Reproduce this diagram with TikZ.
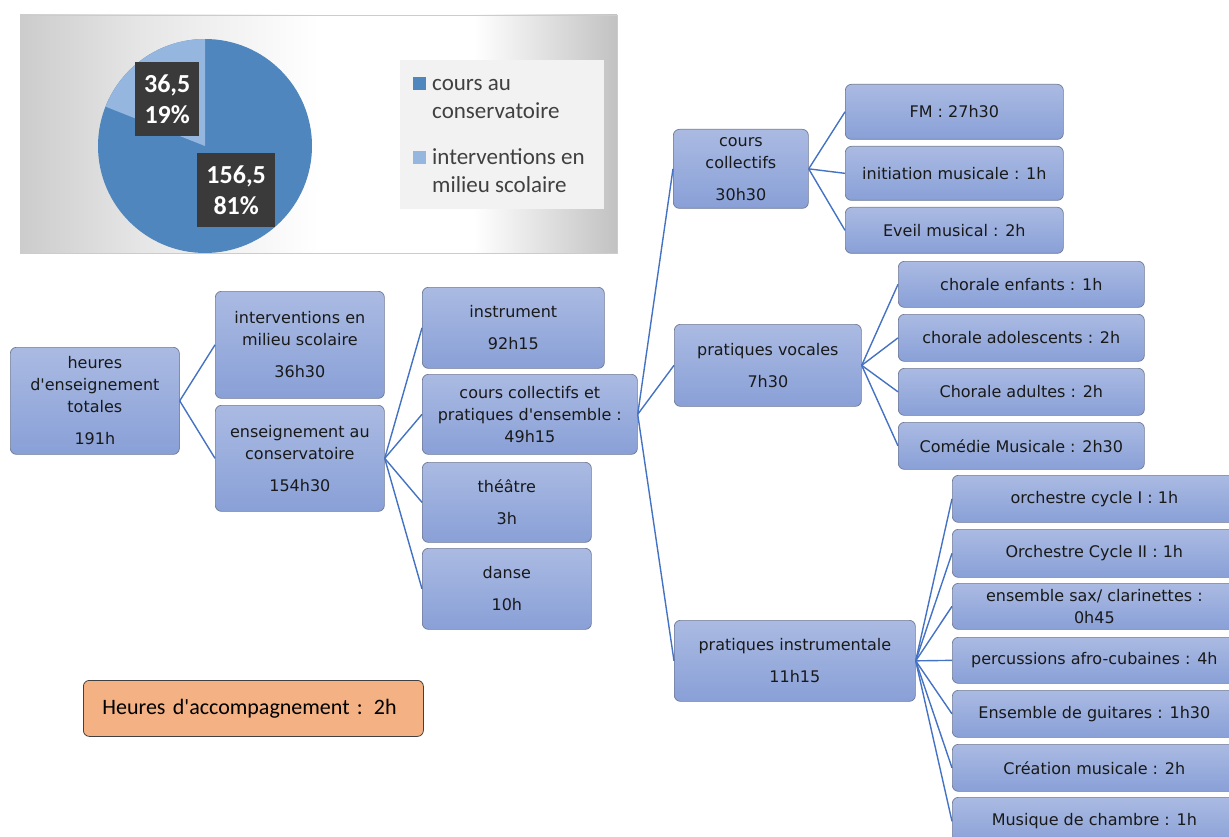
\documentclass[tikz,border=0pt]{standalone}
\usepackage{fontspec}
\setmainfont[Ligatures=TeXOff]{Carlito}
\newfontfamily\boxfont[Ligatures=TeXOff]{DejaVu Sans}
\definecolor{boxtop}{RGB}{170,186,226}
\definecolor{boxbot}{RGB}{137,160,215}
\definecolor{boxline}{RGB}{112,122,150}
\definecolor{linkblue}{RGB}{68,114,196}
\definecolor{piedark}{RGB}{79,134,190}
\definecolor{pielight}{RGB}{149,182,222}
\definecolor{labeldark}{RGB}{58,58,58}
\definecolor{accorange}{RGB}{244,177,131}
\pgfdeclarehorizontalshading{chartback}{100bp}{color(0bp)=(black!20); color(25bp)=(black!20); color(35bp)=(black!10); color(50bp)=(white); color(63bp)=(white); color(75bp)=(black!24); color(100bp)=(black!24)}

\begin{document}
\begin{tikzpicture}[x=1pt,y=-1pt,
    tbox/.style={draw=boxline,line width=0.7pt,rounded corners=6pt,top color=boxtop,bottom color=boxbot,
      anchor=north west,align=center,inner sep=2pt,text=black!90,font=\boxfont\fontsize{16}{22}\selectfont},
    link/.style={draw=linkblue,line width=1.4pt},
    pielabel/.style={fill=labeldark,anchor=north west,align=center,text=white,inner sep=0pt,
      font=\bfseries\fontsize{26}{31}\selectfont},
    legtext/.style={anchor=base west,inner sep=0pt,text=black!75,font=\fontsize{23}{28}\selectfont}]

    \useasboundingbox (0,0) rectangle (1229,837);

    % pie chart
    \shade[shading=chartback,draw=black!20,line width=0.5pt] (20,15) rectangle (617,253);
    \fill[piedark] (205,146) circle[radius=107pt];
    \fill[pielight] (205,146) -- (205,39) arc[start angle=90,end angle=158.4,radius=107pt] -- cycle;
    \node[pielabel,minimum width=64pt,minimum height=74pt] (lab1) at (135,62) {36,5\\19\%};
    \node[pielabel,minimum width=78pt,minimum height=74pt] (lab2) at (197,153) {156,5\\81\%};
    \fill[black!5] (400,60) rectangle (604,209);
    \fill[piedark] (413,77) rectangle (426,90);
    \fill[pielight] (413,151) rectangle (426,164);
    \node[legtext] (leg1a) at (432,91) {cours au};
    \node[legtext] (leg1b) at (432,119) {conservatoire};
    \node[legtext] (leg2a) at (432,165) {interventions en};
    \node[legtext] (leg2b) at (432,193) {milieu scolaire};

    % tree
    \node[tbox,minimum width=169pt,minimum height=107pt] (total) at (10,347) {heures\\d'enseignement\\totales\\[10pt]191h};
\node[tbox,minimum width=169pt,minimum height=107pt] (school) at (215,291) {interventions en\\milieu scolaire\\[10pt]36h30};
\node[tbox,minimum width=169pt,minimum height=106pt] (conserv) at (215,405) {enseignement au\\conservatoire\\[10pt]154h30};
\node[tbox,minimum width=182pt,minimum height=81pt] (instr) at (422,287) {instrument\\[10pt]92h15};
\node[tbox,minimum width=215pt,minimum height=80pt] (ensemble) at (422,374) {cours collectifs et\\pratiques d'ensemble :\\49h15};
\node[tbox,minimum width=169pt,minimum height=80pt] (theatre) at (422,462) {théâtre\\[10pt]3h};
\node[tbox,minimum width=169pt,minimum height=81pt] (danse) at (422,548) {danse\\[10pt]10h};
\node[tbox,minimum width=135pt,minimum height=79pt] (collectifs) at (673,129) {cours\\collectifs\\[10pt]30h30};
\node[tbox,minimum width=187pt,minimum height=82pt] (vocales) at (674,324) {pratiques vocales\\[10pt]7h30};
\node[tbox,minimum width=241pt,minimum height=81pt] (instrum) at (674,620) {pratiques instrumentale\\[10pt]11h15};
\node[tbox,minimum width=218pt,minimum height=55pt] (fm) at (845,84) {FM : 27h30};
\node[tbox,minimum width=218pt,minimum height=54pt] (initiation) at (845,146) {initiation musicale : 1h};
\node[tbox,minimum width=218pt,minimum height=46pt] (eveil) at (845,207) {Eveil musical : 2h};
\node[tbox,minimum width=246pt,minimum height=46pt] (chenf) at (898,261) {chorale enfants : 1h};
\node[tbox,minimum width=246pt,minimum height=47pt] (chado) at (898,314) {chorale adolescents : 2h};
\node[tbox,minimum width=246pt,minimum height=47pt] (chadu) at (898,368) {Chorale adultes : 2h};
\node[tbox,minimum width=246pt,minimum height=47pt] (comedie) at (898,422) {Comédie Musicale : 2h30};
\node[tbox,minimum width=284pt,minimum height=47pt] (orchI) at (952,475) {orchestre cycle I : 1h};
\node[tbox,minimum width=284pt,minimum height=48pt] (orchII) at (952,529) {Orchestre Cycle II : 1h};
\node[tbox,minimum width=284pt,minimum height=46pt] (sax) at (952,583) {ensemble sax/ clarinettes :\\0h45};
\node[tbox,minimum width=284pt,minimum height=46pt] (percu) at (952,637) {percussions afro-cubaines : 4h};
\node[tbox,minimum width=284pt,minimum height=47pt] (guitares) at (952,690) {Ensemble de guitares : 1h30};
\node[tbox,minimum width=284pt,minimum height=47pt] (creation) at (952,744) {Création musicale : 2h};
\node[tbox,minimum width=284pt,minimum height=48pt] (chambre) at (952,797) {Musique de chambre : 1h};

    \foreach \child in {school,conserv} \draw[link] (total.east) -- (\child.west);
    \foreach \child in {instr,ensemble,theatre,danse} \draw[link] (conserv.east) -- (\child.west);
    \foreach \child in {collectifs,vocales,instrum} \draw[link] (ensemble.east) -- (\child.west);
    \foreach \child in {fm,initiation,eveil} \draw[link] (collectifs.east) -- (\child.west);
    \foreach \child in {chenf,chado,chadu,comedie} \draw[link] (vocales.east) -- (\child.west);
    \foreach \child in {orchI,orchII,sax,percu,guitares,creation,chambre} \draw[link] (instrum.east) -- (\child.west);

    % accompagnement
    \node[draw=black!75,line width=0.8pt,rounded corners=6pt,fill=accorange,anchor=north west,
      minimum height=56pt,text width=302pt,inner xsep=19pt,align=left,
      font=\fontsize{22}{26}\selectfont] (accomp) at (83,680) {Heures d'accompagnement : 2h};

  \end{tikzpicture}
\end{document}
